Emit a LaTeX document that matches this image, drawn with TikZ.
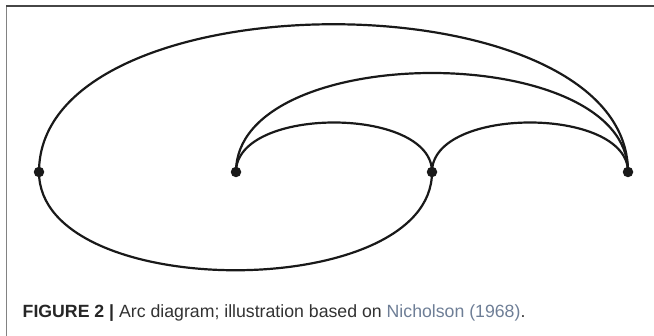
\documentclass[tikz,border=0pt]{standalone}
\usepackage{fontspec}
\setmainfont{Liberation Sans}
\definecolor{linkblue}{RGB}{110,126,150}
\definecolor{captxt}{RGB}{50,50,50}
\definecolor{frameleft}{RGB}{130,130,130}
\definecolor{frametop}{RGB}{70,70,70}
\begin{document}
\begin{tikzpicture}[x=1pt,y=-1pt,
  dot/.style={circle,fill=black!90,inner sep=0pt,minimum size=10.5pt},
  arcline/.style={line width=2.2pt,black!90},
  caption/.style={anchor=base west,inner sep=0pt,font=\fontsize{17.7}{20}\selectfont,text=captxt}]
\useasboundingbox (0,0) rectangle (654,336);
\draw[frameleft,line width=1.4pt] (6.5,6) -- (6.5,336);
\draw[frametop,line width=1.4pt] (6,6) -- (654,6);
\node[dot] (A) at (39,172) {};
\node[dot] (B) at (236,172) {};
\node[dot] (C) at (432,172) {};
\node[dot] (D) at (628,172) {};
\draw[arcline] (A.center) .. controls +(0,-197) and +(0,-197) .. (D.center);
\draw[arcline] (B.center) .. controls +(0,-132) and +(0,-132) .. (D.center);
\draw[arcline] (B.center) .. controls +(0,-66) and +(0,-66) .. (C.center);
\draw[arcline] (C.center) .. controls +(0,-66) and +(0,-66) .. (D.center);
\draw[arcline] (A.center) .. controls +(0,131) and +(0,131) .. (C.center);
\node[caption] (cap) at (22.5,318) {{\color{black!85}\bfseries FIGURE 2 |} Arc diagram; illustration based on \textcolor{linkblue}{Nicholson (1968)}.};
\end{tikzpicture}
\end{document}
